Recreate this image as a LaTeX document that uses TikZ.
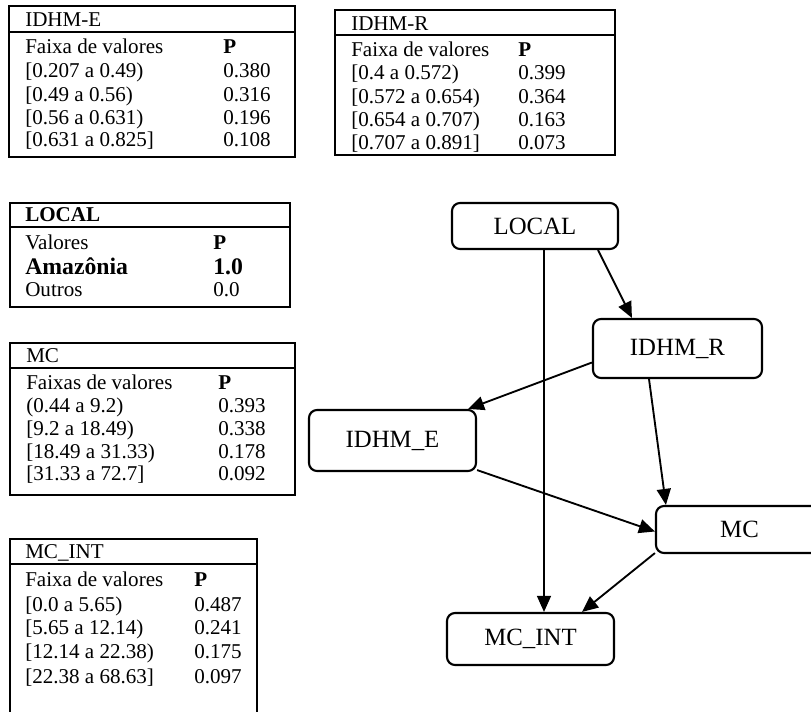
\documentclass[tikz,border=0pt]{standalone}
\usepackage{fontspec}
\setmainfont{Liberation Serif}
\usetikzlibrary{arrows.meta,calc}
\begin{document}
\begin{tikzpicture}[x=0.75pt,y=-0.75pt,
  tbl/.style={line width=1.5pt},
  cell/.style={anchor=base west, yshift=-5pt, inner sep=0pt, font=\fontsize{15.8}{16}\selectfont},
  cellb/.style={cell, font=\fontsize{15.8}{16}\selectfont\bfseries},
  big/.style={cell, font=\fontsize{17.8}{18}\selectfont\bfseries},
  var/.style={draw, line width=1.6pt, rounded corners=6pt, inner sep=0pt, font=\fontsize{18.6}{19}\selectfont},
  edge/.style={line width=1.4pt, -{Triangle[length=12pt,width=10.5pt]}},
  thinedge/.style={line width=0.9pt, -{Triangle[length=12pt,width=10.5pt]}}]
\useasboundingbox (0,0) rectangle (811,711);
\clip (0,0) rectangle (811,711);
\fill[white] (0,0) rectangle (811,711);

% ---- IDHM-E table
\draw[tbl] (9,6) rectangle (295,157);
\draw[tbl] (9,32) -- (295,32);
\node[cell] (eh) at (25,20) {IDHM-E};
\node[cell] (e0l) at (25,47) {Faixa de valores};
\node[cellb] (e0p) at (223,47) {P};
\node[cell] (e1l) at (25,71) {[0.207 a 0.49)};
\node[cell] (e1p) at (223,71) {0.380};
\node[cell] (e2l) at (25,95) {[0.49 a 0.56)};
\node[cell] (e2p) at (223,95) {0.316};
\node[cell] (e3l) at (25,118) {[0.56 a 0.631)};
\node[cell] (e3p) at (223,118) {0.196};
\node[cell] (e4l) at (25,140) {[0.631 a 0.825]};
\node[cell] (e4p) at (223,140) {0.108};

% ---- IDHM-R table
\draw[tbl] (335,10) rectangle (615,155);
\draw[tbl] (335,35) -- (615,35);
\node[cell] (rh) at (351,24) {IDHM-R};
\node[cell] (r0l) at (351,50) {Faixa de valores};
\node[cellb] (r0p) at (518,50) {P};
\node[cell] (r1l) at (351,73) {[0.4 a 0.572)};
\node[cell] (r1p) at (518,73) {0.399};
\node[cell] (r2l) at (351,97) {[0.572 a 0.654)};
\node[cell] (r2p) at (518,97) {0.364};
\node[cell] (r3l) at (351,120) {[0.654 a 0.707)};
\node[cell] (r3p) at (518,120) {0.163};
\node[cell] (r4l) at (351,143) {[0.707 a 0.891]};
\node[cell] (r4p) at (518,143) {0.073};

% ---- LOCAL table
\draw[tbl] (10,203) rectangle (290,307);
\draw[tbl] (10,227) -- (290,227);
\node[cellb] (lh) at (25,215) {LOCAL};
\node[cell] (l0l) at (25,243) {Valores};
\node[cellb] (l0p) at (213,243) {P};
\node[big] (l1l) at (25,268) {Amazônia};
\node[big] (l1p) at (213,268) {1.0};
\node[cell] (l2l) at (25,290) {Outros};
\node[cell] (l2p) at (213,290) {0.0};

% ---- MC table
\draw[tbl] (10,343) rectangle (295,495);
\draw[tbl] (10,368) -- (295,368);
\node[cell] (mh) at (26,356) {MC};
\node[cell] (m0l) at (26,383) {Faixas de valores};
\node[cellb] (m0p) at (218,383) {P};
\node[cell] (m1l) at (26,406) {(0.44 a 9.2)};
\node[cell] (m1p) at (218,406) {0.393};
\node[cell] (m2l) at (26,429) {[9.2 a 18.49)};
\node[cell] (m2p) at (218,429) {0.338};
\node[cell] (m3l) at (26,452) {[18.49 a 31.33)};
\node[cell] (m3p) at (218,452) {0.178};
\node[cell] (m4l) at (26,474) {[31.33 a 72.7]};
\node[cell] (m4p) at (218,474) {0.092};

% ---- MC_INT table
\draw[tbl] (10,725) -- (10,539) -- (257,539) -- (257,725);
\draw[tbl] (10,564) -- (257,564);
\node[cell] (ih) at (25,552) {MC\_INT};
\node[cell] (i0l) at (25,580) {Faixa de valores};
\node[cellb] (i0p) at (194,580) {P};
\node[cell] (i1l) at (25,605) {[0.0 a 5.65)};
\node[cell] (i1p) at (194,605) {0.487};
\node[cell] (i2l) at (25,628) {[5.65 a 12.14)};
\node[cell] (i2p) at (194,628) {0.241};
\node[cell] (i3l) at (25,652) {[12.14 a 22.38)};
\node[cell] (i3p) at (194,652) {0.175};
\node[cell] (i4l) at (25,677) {[22.38 a 68.63]};
\node[cell] (i4p) at (194,677) {0.097};

% ---- network
\node[var, minimum width=124.5pt, minimum height=34.5pt] (LOCAL) at (535,226) {LOCAL};
\node[var, minimum width=126.75pt, minimum height=44.25pt] (IDHMR) at (677.5,348.5) {IDHM\_R};
\node[var, minimum width=125.25pt, minimum height=45.75pt] (IDHME) at (392.5,440.5) {IDHM\_E};
\node[var, minimum width=125.25pt, minimum height=35.25pt] (MC) at (739.5,529.5) {MC};
\node[var, minimum width=125.25pt, minimum height=39pt] (MCINT) at (530.5,639) {MC\_INT};

\draw[edge] ($(LOCAL.south east)+(-21,0)$) -- ($(IDHMR.north west)+(40,0)$);
\draw[thinedge] ($(LOCAL.south)+(9,0)$) -- ($(MCINT.north)+(13.5,0)$);
\draw[edge] ($(IDHMR.west)+(0,14)$) -- ($(IDHME.north east)+(-9,0)$);
\draw[edge] ($(IDHMR.south)+(-28.5,0)$) -- ($(MC.north west)+(11,0)$);
\draw[edge] ($(IDHME.south east)+(0,-2)$) -- ($(MC.west)+(0,2)$);
\draw[edge] ($(MC.south west)+(0,-1)$) -- ($(MCINT.north)+(51.5,0)$);
\end{tikzpicture}
\end{document}
